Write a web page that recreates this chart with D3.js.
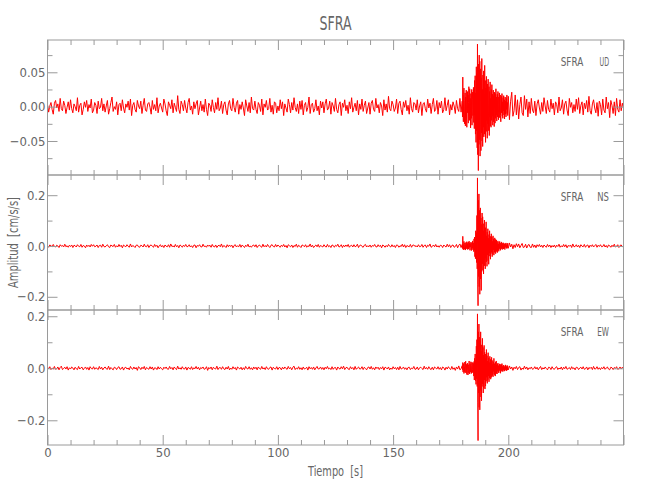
<!DOCTYPE html>
<html>
<head>
<meta charset="utf-8">
<script src="https://cdn.jsdelivr.net/npm/d3@7"></script>
<style>
  html, body { margin: 0; padding: 0; background: #fff; }
  svg { display: block; }
  text { font-family: "Liberation Sans Narrow", "DejaVu Sans Condensed", "Liberation Sans", sans-serif; fill: #666; white-space: pre; }
</style>
</head>
<body>
<svg id="chart" width="650" height="500"></svg>
<script>
// ---------------- data ----------------
const chartTitle = "SFRA";
const station = "SFRA";
const components = ["UD", "NS", "EW"];
const xLabel = "Tiempo  [s]";
const yLabel = "Amplitud  [cm/s/s]";
const timeDomain = [0, 250];
const xMajorTicks = [0, 50, 100, 150, 200, 250];
const xTickLabels = [0, 50, 100, 150, 200];
const valueUnit = 0.001;      // all amplitudes below are in 0.001 cm/s/s

// sampling of the three pieces of each trace (seconds)
const beforeStart = 0,   beforeStep = 0.5;    // 0 – 180 s
const eventStart  = 180, eventStep  = 0.125;  // 180 – 200 s
const afterStart  = 200, afterStep  = 0.5;    // 200 – 250 s

// ---- UD ----
const udBefore = [
 3,-8,1,6,-4,-11,5,9,-2,4,-7,12,-3,-6,8,2,-10,-1,7,-5,
 10,-3,-9,4,0,-6,13,-8,2,5,-12,-4,7,-1,9,-7,3,-2,11,-9,
 -5,6,2,-10,8,-3,-1,12,-6,4,-8,1,9,-11,-3,6,14,-7,0,-4,
 7,-12,3,5,-6,10,-2,-9,4,-1,8,-5,11,-13,2,6,-4,-8,9,1,
 -3,8,-10,2,12,-5,-7,4,6,-1,-11,9,-4,3,-6,13,-9,1,5,-2,
 -8,11,4,-6,-13,7,2,-3,10,-9,5,-1,-7,16,-4,-10,8,3,-6,9,
 -2,-9,6,12,-5,1,-11,7,-3,4,9,-12,-2,8,-6,3,-8,11,-4,-13,
 5,2,-7,10,-1,-9,6,-4,13,-6,-2,8,-10,3,7,-5,-12,4,9,-3,
 -6,12,-1,-8,5,9,-11,3,-4,7,-2,-13,10,1,-7,6,-9,14,-3,-5,
 8,-4,-10,6,2,-7,11,-12,4,-1,9,-5,-3,12,-8,2,-11,7,5,-9,
 1,-6,10,-3,7,-13,4,-2,-8,11,3,-9,6,-5,13,-1,-7,4,-10,8,
 -4,9,-12,2,6,-7,-1,14,-10,3,5,-8,-3,10,-6,1,-12,8,-2,7,
 -9,4,11,-5,-2,8,-11,6,1,-7,12,-4,-9,3,7,-13,5,-1,10,-6,
 2,-10,7,-3,13,-8,-1,5,-6,9,-12,4,-4,11,-7,2,8,-10,-2,6,
 -11,5,9,-4,-7,12,-2,3,-9,6,1,-13,10,-5,4,-8,15,-3,-6,8,
 3,-7,-2,11,-10,5,8,-4,-12,7,-1,9,-6,2,-11,13,-3,-8,6,4,
 -5,10,-9,1,7,-13,4,6,-3,-8,11,-2,5,-10,3,12,-7,-4,9,-11,
 6,-2,8,-9,-4,13,-6,2,10,-12,3,-5,7,1,-10,9,-3,-7,12,-8
];
const udEvent = [
 8,-15,43,-6,-22,18,27,-12,-25,9,20,-28,14,-5,24,-18,-30,11,22,-9,
 17,-24,6,29,-14,-20,26,-8,12,-31,19,3,-17,25,-27,10,21,-13,-6,28,
 -23,15,-32,38,-12,45,-40,20,-52,58,-35,48,-60,91,-70,40,-93,62,-55,75,
 -48,66,-72,30,55,-64,42,-38,70,-50,25,-58,46,-30,52,-44,18,-40,60,-33,
 38,-52,27,-20,44,-36,15,-46,33,-25,40,-18,-35,29,-42,22,-15,36,-28,12,
 -30,25,-20,32,-14,18,-27,10,24,-22,16,-29,21,-8,-24,19,-17,26,-12,14,
 -21,9,18,-15,22,-11,-19,14,-8,20,-16,6,17,-13,-22,11,15,-9,19,-14,
 7,-17,13,-6,16,-12,10,-18,5,14,-11,8,-15,12,-4,17,-10,6,-13,9
];
const udAfter = [
 15,-19,8,21,-14,-6,17,-12,10,-18,3,14,-9,-13,16,-4,11,-15,7,-10,
 12,-5,-9,8,-13,4,10,-2,-11,6,-7,13,1,-10,9,-4,-8,11,-3,5,
 -12,7,3,-9,14,-6,-2,10,-11,4,8,-5,-13,12,-1,6,-9,3,-7,11,
 -4,13,-10,2,7,-12,5,-3,9,-8,15,-6,-11,4,10,-2,-9,6,-14,8,
 3,-12,11,-5,-9,14,-3,6,-16,9,2,-10,7,-13,12,-4,-8,10,-6,5,
 -2
];

// ---- NS ----
const nsBefore = [
 2,-5,4,1,-3,6,-2,-4,3,0,-6,5,-1,2,-4,7,-3,1,-5,3,
 -2,4,-6,3,1,-4,5,-1,-3,6,-5,2,0,-7,4,-2,3,-4,6,-1,
 5,-3,-1,4,-6,2,3,-5,7,-2,-4,1,5,-3,-6,4,0,-2,6,-5,
 1,-4,6,-2,3,-7,4,0,-3,5,-1,-5,8,-4,2,-1,-6,3,4,-3,
 -5,3,1,-4,7,-2,-3,5,-6,2,4,-1,-5,6,-2,3,-7,1,5,-4,
 2,-6,4,-1,-3,5,-5,8,-2,0,-4,6,-3,2,-7,4,1,-5,3,-2,
 6,-3,-2,5,-4,1,-6,3,4,-7,2,-1,5,-3,-4,7,-2,0,-5,4,
 -1,3,-5,6,-2,-4,4,-6,1,3,-3,8,-5,2,-1,-6,5,-3,4,-2,
 3,-7,2,5,-4,1,-3,6,-5,4,-1,-6,3,-2,7,-4,0,-5,2,4,
 -3,5,-6,1,4,-2,-5,7,-3,2,-4,6,-1,-6,3,5,-2,-4,6,-3,
 4,-1,-5,3,-2,6,-4,2,-7,5,1,-3,4,-6,2,-2,7,-5,3,-1,
 -6,4,2,-3,5,-5,1,-2,8,-4,3,-6,0,4,-3,6,-5,2,-1,-4,
 5,-2,-4,6,-3,1,-6,4,2,-5,3,-1,7,-4,-2,5,-6,3,-3,4,
 -2,6,-5,1,3,-4,5,-3,-1,7,-6,2,4,-2,-5,3,6,-4,1,-3,
 4,-5,2,-1,6,-3,-4,5,-2,3,-7,4,1,-5,2,-3,6,-1,-4,5,
 -3,2,-6,4,3,-5,1,-2,7,-4,5,-6,2,-1,-3,6,-5,3,4,-2,
 1,-4,5,-3,-2,6,-5,2,4,-6,3,-1,8,-5,-2,4,-3,6,-4,1,
 -5,3,2,-6,4,-1,-4,7,-3,5,-6,2,4,-5,-2,6,-7,3,8,-6
];
const nsEvent = [
 6,-10,38,-4,-15,9,18,-7,-13,12,8,-16,5,14,-11,-6,17,-9,10,-14,
 4,16,-12,-8,19,-5,11,-17,7,-3,15,-10,-18,13,6,-9,20,-15,-4,12,
 -22,28,-16,35,-42,25,-50,60,-38,52,-65,120,-90,268,-150,-235,180,-120,205,-160,
 140,-190,95,150,-130,110,-175,85,-100,130,-70,115,-95,60,-110,88,-55,102,-78,65,
 -90,72,-48,95,-62,40,-80,55,-35,68,-58,30,-72,45,-28,60,-40,22,-52,38,
 -30,48,-24,35,-42,18,-33,40,-15,28,-36,20,-25,32,-12,26,-30,15,-22,24,
 -18,14,-26,10,20,-16,8,-21,15,-9,18,-13,6,-17,12,-8,16,-11,5,-14,
 10,-7,13,-12,4,11,-9,7,-14,6,9,-5,12,-8,3,-10,8,-6,11,-4
];
const nsAfter = [
 -9,12,-4,7,-11,5,-6,9,-3,8,-7,2,10,-6,-4,7,-8,3,6,-5,
 -6,8,-5,4,-7,5,-2,6,-4,3,-6,4,-1,-5,6,-3,4,-6,2,-4,
 4,-6,3,-2,7,-5,1,-4,6,-3,5,-7,2,-1,4,-6,8,-3,-2,5,
 -4,3,-6,5,-1,-3,6,-5,2,4,-7,3,-2,5,-4,1,6,-5,3,-2,
 5,-3,-2,6,-4,2,-6,4,1,-5,3,-3,7,-4,-1,5,-6,2,4,-3,
 1
];

// ---- EW ----
const ewBefore = [
 4,-2,6,-5,1,-3,7,-4,-2,5,-6,3,8,-5,-1,4,-3,6,-7,2,
 -3,5,1,-6,4,-2,-5,7,-3,2,4,-6,0,5,-4,3,-7,6,-1,-3,
 6,-4,2,-1,-5,7,-3,4,-6,1,5,-2,-4,8,-5,3,-2,-6,4,2,
 -5,3,6,-4,-2,5,-7,2,4,-3,1,-6,7,-1,-4,5,-3,3,-8,6,
 2,-5,4,-2,7,-6,3,-1,-4,6,-3,5,-7,2,1,-5,6,-3,4,-2,
 -6,4,-1,5,-3,-4,7,-2,3,-6,5,-1,-5,8,-3,2,-4,6,-2,-3,
 5,-7,3,1,-4,6,-5,2,-2,7,-3,4,-6,3,-1,5,-4,-2,6,-8,
 3,-2,5,-6,4,-1,-3,8,-5,2,3,-4,6,-2,-5,4,-3,7,-6,1,
 -4,6,-2,3,-7,5,1,-3,4,-6,2,-5,7,-1,-3,6,-4,2,-6,5,
 -2,4,-6,5,-1,-4,7,-3,2,-5,6,-2,-4,3,5,-7,4,-1,-3,6,
 -5,3,2,-6,4,-3,5,-1,-4,7,-2,3,-6,4,8,-5,1,-3,6,-4,
 2,-6,5,-3,-1,4,-7,6,-2,3,-4,5,-6,1,7,-3,-2,5,-4,3,
 -6,4,-2,7,-3,1,-5,6,-4,2,3,-7,5,-1,-3,6,-2,8,-5,2,
 4,-3,-5,6,-2,3,-6,7,-4,1,5,-3,-2,6,-5,4,-1,-6,3,5,
 -3,7,-4,2,-6,5,-1,4,-5,3,-2,6,-7,4,2,-3,5,-6,1,-4,
 6,-2,3,-5,4,-6,7,-3,-1,5,-4,2,-6,3,4,-5,1,-2,7,-4,
 -3,5,-6,2,4,-1,-5,8,-3,3,-4,6,-2,-5,4,-6,5,1,-3,6,
 -4,3,-6,5,2,-7,4,-3,6,-1,-5,7,-4,2,-8,5,-3,9,-6,-2
];
const ewEvent = [
 10,-6,22,-14,8,18,-20,5,-12,24,-16,9,27,-18,-8,15,-24,12,20,-10,
 -26,14,6,-19,28,-11,-22,17,9,-15,25,-7,-20,12,23,-17,-5,21,-13,18,
 -30,26,-45,38,-20,55,-48,30,-62,85,-40,110,-70,209,-130,-278,140,-95,170,-150,
 120,-160,105,-85,140,-110,65,-125,90,-70,115,-60,80,-95,50,-75,88,-45,62,-80,
 55,-68,38,-50,72,-35,48,-58,28,-44,60,-30,40,-52,22,-38,46,-25,34,-42,
 20,-35,42,-18,30,-28,15,-33,25,-12,38,-22,18,-27,10,-30,24,-16,28,-20,
 12,-22,16,-9,20,-14,8,-18,13,-6,17,-11,15,-19,7,-12,14,-8,18,-10,
 6,-13,10,-5,12,-9,4,-11,8,-7,13,-4,9,-10,5,-8,11,-6,7,-3
];
const ewAfter = [
 -6,9,-3,5,-8,4,-2,7,-5,3,6,-7,1,-4,8,-3,5,-6,2,-2,
 5,-4,-2,6,-3,4,-6,1,7,-5,2,-3,5,-1,-6,4,3,-5,6,-2,
 -4,3,6,-5,1,-3,5,-6,4,-2,7,-4,-1,3,-5,6,-2,2,-6,4,
 3,-5,1,4,-3,6,-4,-2,5,-6,3,-1,4,-5,7,-3,-2,6,-4,2,
 -5,3,-2,6,-4,1,5,-3,-6,4,2,-5,3,-1,6,-4,-2,5,-3,4,
 -1
];

// per-panel axis ranges and ticks
const udRange = [-0.0995, 0.097];
const udMajorTicks = [-0.05, 0, 0.05];
const udMinorTicks = [-0.075, -0.025, 0.025, 0.075];
const nsRange = [-0.252, 0.2795];
const nsMajorTicks = [-0.2, 0, 0.2];
const nsMinorTicks = [-0.1, 0.1];
const ewRange = [-0.295, 0.224];
const ewMajorTicks = [-0.2, 0, 0.2];
const ewMinorTicks = [-0.1, 0.1];

// ---------------- drawing ----------------
function toPoints(before, event, after) {
  const pts = [];
  before.forEach((v, k) => pts.push([beforeStart + k * beforeStep, v]));
  event.forEach((v, k) => pts.push([eventStart + k * eventStep, v]));
  after.forEach((v, k) => pts.push([afterStart + k * afterStep, v]));
  return pts;
}

const svg = d3.select("#chart");
const left = 47.5, right = 623.5;
const panelTops = [40, 175, 310];
const panelH = 135;
const axisColor = "#9a9a9a";

const x = d3.scaleLinear().domain(timeDomain).range([left, right]);
const xMinorTicks = d3.range(10, 250, 10).filter(v => v % 50 !== 0);

const panels = [
  { comp: components[0], pts: toPoints(udBefore, udEvent, udAfter), range: udRange, major: udMajorTicks, minor: udMinorTicks, fmt: d3.format(".2f") },
  { comp: components[1], pts: toPoints(nsBefore, nsEvent, nsAfter), range: nsRange, major: nsMajorTicks, minor: nsMinorTicks, fmt: d3.format(".1f") },
  { comp: components[2], pts: toPoints(ewBefore, ewEvent, ewAfter), range: ewRange, major: ewMajorTicks, minor: ewMinorTicks, fmt: d3.format(".1f") }
];

const defs = svg.append("defs");

function styleAxis(g) {
  g.select(".domain").remove();
  g.selectAll(".tick line").attr("stroke", axisColor).attr("stroke-width", 1);
  g.selectAll(".tick text")
    .attr("fill", "#666")
    .style("font-family", '"Liberation Sans Narrow", "DejaVu Sans Condensed", sans-serif')
    .style("font-size", "13px");
}

panels.forEach((p, i) => {
  const top = panelTops[i];
  const bottom = top + panelH;
  const y = d3.scaleLinear().domain(p.range).range([bottom, top]);

  defs.append("clipPath").attr("id", "clip" + i)
    .append("rect").attr("x", left).attr("y", top).attr("width", right - left).attr("height", panelH);

  const line = d3.line()
    .x(d => x(d[0]))
    .y(d => y(d[1] * valueUnit));

  svg.append("path")
    .datum(p.pts)
    .attr("clip-path", `url(#clip${i})`)
    .attr("fill", "none")
    .attr("stroke", "#ff0000")
    .attr("stroke-width", 1)
    .attr("stroke-linejoin", "round")
    .attr("d", line);

  // frame
  svg.append("rect")
    .attr("x", left).attr("y", top).attr("width", right - left).attr("height", panelH)
    .attr("fill", "none").attr("stroke", axisColor).attr("stroke-width", 1);

  // left axis
  svg.append("g").attr("transform", `translate(${left},0)`)
    .call(d3.axisLeft(y).tickValues(p.major).tickSize(-10).tickPadding(2).tickFormat(p.fmt))
    .call(styleAxis);
  svg.append("g").attr("transform", `translate(${left},0)`)
    .call(d3.axisLeft(y).tickValues(p.minor).tickSize(-5).tickFormat(""))
    .call(styleAxis);
  // right axis
  svg.append("g").attr("transform", `translate(${right},0)`)
    .call(d3.axisRight(y).tickValues(p.major).tickSize(-10).tickFormat(""))
    .call(styleAxis);
  svg.append("g").attr("transform", `translate(${right},0)`)
    .call(d3.axisRight(y).tickValues(p.minor).tickSize(-5).tickFormat(""))
    .call(styleAxis);
  // top axis
  svg.append("g").attr("transform", `translate(0,${top})`)
    .call(d3.axisTop(x).tickValues(xMajorTicks).tickSize(-10).tickFormat(""))
    .call(styleAxis);
  svg.append("g").attr("transform", `translate(0,${top})`)
    .call(d3.axisTop(x).tickValues(xMinorTicks).tickSize(-5).tickFormat(""))
    .call(styleAxis);
  // bottom axis
  const isLast = i === panels.length - 1;
  svg.append("g").attr("transform", `translate(0,${bottom})`)
    .call(d3.axisBottom(x).tickValues(xMajorTicks).tickSize(-10).tickPadding(3)
      .tickFormat(d => (isLast && xTickLabels.includes(d)) ? d3.format("d")(d) : ""))
    .call(styleAxis);
  svg.append("g").attr("transform", `translate(0,${bottom})`)
    .call(d3.axisBottom(x).tickValues(xMinorTicks).tickSize(-5).tickFormat(""))
    .call(styleAxis);

  // station / component label
  svg.append("text")
    .attr("x", 560.7).attr("y", top + 25.7)
    .attr("font-size", 12.5)
    .attr("textLength", 22.6).attr("lengthAdjust", "spacingAndGlyphs")
    .text(station);
  svg.append("text")
    .attr("x", p.comp === "UD" ? 599.5 : 597.3).attr("y", top + 25.7)
    .attr("font-size", 12.5)
    .attr("textLength", p.comp === "UD" ? 9.5 : 11.7).attr("lengthAdjust", "spacingAndGlyphs")
    .text(p.comp);
});

// title
svg.append("text")
  .attr("x", 319.5).attr("y", 30)
  .attr("font-size", 20)
  .attr("textLength", 32).attr("lengthAdjust", "spacingAndGlyphs")
  .text(chartTitle);

// x label
svg.append("text")
  .attr("x", 308).attr("y", 476)
  .attr("font-size", 13.5)
  .attr("textLength", 55).attr("lengthAdjust", "spacingAndGlyphs")
  .text(xLabel);

// y label
svg.append("text")
  .attr("transform", "translate(18,288) rotate(-90)")
  .attr("font-size", 13.5)
  .attr("textLength", 91).attr("lengthAdjust", "spacingAndGlyphs")
  .text(yLabel);
</script>
</body>
</html>
